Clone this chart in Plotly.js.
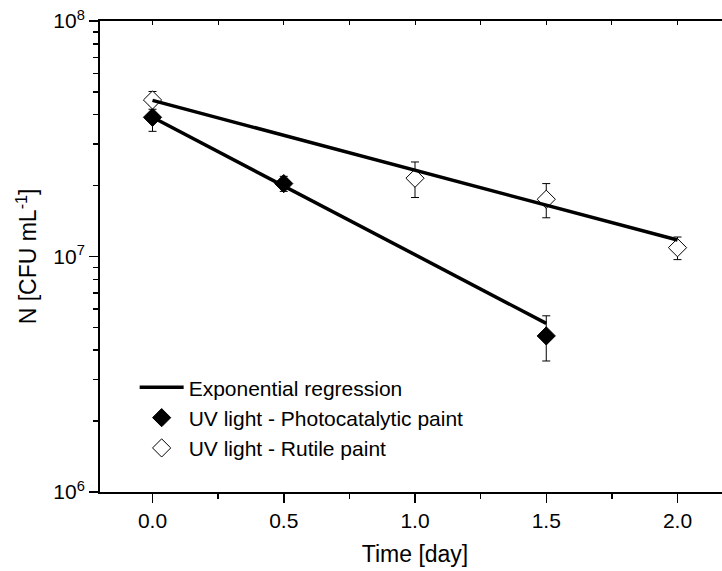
<!DOCTYPE html>
<html>
<head>
<meta charset="utf-8">
<script src="https://cdn.plot.ly/plotly-3.0.1.min.js"></script>
<style>html,body{margin:0;padding:0;overflow:hidden;background:#fff;}</style>
</head>
<body>
<div id="chart"></div>
<script>
// Measured data (CFU/mL)
var photoDays = [0, 0.5, 1.5];
var photoN = [3.9e7, 2.04e7, 4.6e6];
var photoErr = [5.0e6, 1.5e6, 1.0e6];

var rutileDays = [0, 1.0, 1.5, 2.0];
var rutileN = [4.62e7, 2.15e7, 1.75e7, 1.09e7];
var rutileErr = [4.0e6, 3.7e6, 2.9e6, 1.2e6];

// Exponential regression lines (end points)
var photoFitDays = [0, 1.5];
var photoFitN = [3.9e7, 5.2e6];
var rutileFitDays = [0, 2.0];
var rutileFitN = [4.6e7, 1.175e7];

var yTickVals = [1e6, 1e7, 1e8];
var yTickText = ['10<sup>6</sup>', '10<sup>7</sup>', '10<sup>8</sup>'];
var yMinorVals = [2e6,3e6,4e6,5e6,6e6,7e6,8e6,9e6,2e7,3e7,4e7,5e7,6e7,7e7,8e7,9e7];
var xTickVals = [0, 0.5, 1.0, 1.5, 2.0];
var xTickText = ['0.0', '0.5', '1.0', '1.5', '2.0'];
var xMinorVals = [0.25, 0.75, 1.25, 1.75];
var xTopTickVals = [0, 0.25, 0.5, 0.75, 1.0, 1.25, 1.5, 1.75, 2.0];

var font = 'Liberation Sans, Arial, sans-serif';

var traces = [
  {
    x: photoDays, y: photoN, type: 'scatter', mode: 'markers',
    name: 'UV light - Photocatalytic paint', legendrank: 2,
    marker: {symbol: 'diamond', size: 14, color: '#000', line: {color: '#000', width: 1}},
    error_y: {type: 'data', array: photoErr, visible: true, color: '#000', thickness: 1, width: 4}
  },
  {
    x: rutileDays, y: rutileN, type: 'scatter', mode: 'markers',
    name: 'UV light - Rutile paint', legendrank: 3,
    marker: {symbol: 'diamond', size: 14, color: '#fff', line: {color: '#000', width: 1}},
    error_y: {type: 'data', array: rutileErr, visible: true, color: '#000', thickness: 1, width: 4}
  },
  {
    x: photoFitDays, y: photoFitN, type: 'scatter', mode: 'lines',
    name: 'Exponential regression', legendrank: 1,
    line: {color: '#000', width: 3.5}
  },
  {
    x: rutileFitDays, y: rutileFitN, type: 'scatter', mode: 'lines',
    name: 'Exponential regression', showlegend: false,
    line: {color: '#000', width: 3.5}
  },
  {
    x: [0], y: [1e7], xaxis: 'x2', type: 'scatter', mode: 'markers',
    marker: {opacity: 0}, showlegend: false, hoverinfo: 'skip'
  }
];

var layout = {
  width: 732, height: 571,
  margin: {l: 100, r: 2, t: 21, b: 79},
  paper_bgcolor: '#fff', plot_bgcolor: '#fff',
  font: {family: font, size: 21, color: '#000'},
  showlegend: true,
  legend: {
    x: 0.055, y: 0.265, xanchor: 'left', yanchor: 'top',
    bgcolor: 'rgba(0,0,0,0)', borderwidth: 0,
    font: {family: font, size: 21, color: '#000'},
    tracegroupgap: 0, itemwidth: 44
  },
  xaxis: {
    range: [-0.2, 2.2], showgrid: false, zeroline: false,
    tickmode: 'array', tickvals: xTickVals, ticktext: xTickText,
    ticks: 'outside', ticklen: 9, tickwidth: 1.5, tickcolor: '#000',
    showline: true, linecolor: '#000', linewidth: 2,
    minor: {tickmode: 'array', tickvals: xMinorVals, ticks: 'outside', ticklen: 5, tickwidth: 1.5, tickcolor: '#000'},
    tickfont: {family: font, size: 21},
    title: {text: 'Time [day]', font: {family: font, size: 23}, standoff: 15}
  },
  xaxis2: {
    overlaying: 'x', side: 'top', matches: 'x', range: [-0.2, 2.2],
    showgrid: false, zeroline: false, showticklabels: false,
    tickmode: 'array', tickvals: xTopTickVals,
    ticks: 'inside', ticklen: 4, tickwidth: 1, tickcolor: '#000',
    showline: true, linecolor: '#000', linewidth: 2
  },
  yaxis: {
    type: 'log', range: [6, 8], showgrid: false, zeroline: false,
    tickmode: 'array', tickvals: yTickVals, ticktext: yTickText,
    ticks: 'outside', ticklen: 9, tickwidth: 1.5, tickcolor: '#000',
    showline: true, linecolor: '#000', linewidth: 2,
    minor: {tickmode: 'array', tickvals: yMinorVals, ticks: 'outside', ticklen: 5, tickwidth: 1.5, tickcolor: '#000'},
    tickfont: {family: font, size: 21},
    title: {text: 'N [CFU mL<sup>-1</sup>]', font: {family: font, size: 23}, standoff: 10}
  }
};

Plotly.newPlot('chart', traces, layout, {displayModeBar: false, staticPlot: true});
</script>
</body>
</html>
